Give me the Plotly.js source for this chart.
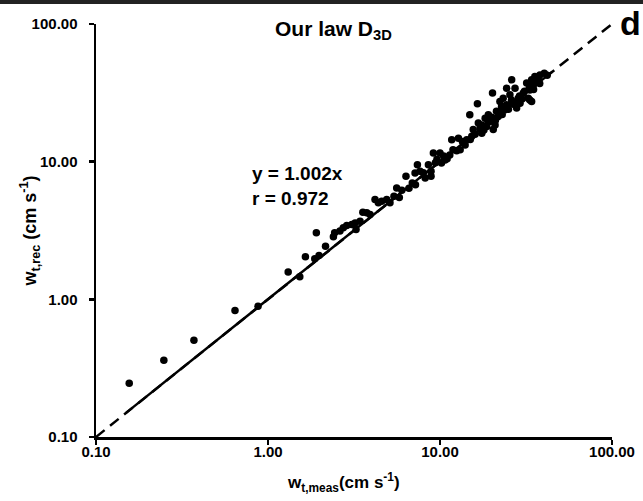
<!DOCTYPE html>
<html>
<head>
<meta charset="utf-8">
<script src="https://cdn.plot.ly/plotly-3.0.1.min.js"></script>
<style>html,body{margin:0;padding:0;background:#fff;}#chart{width:643px;height:501px;}</style>
</head>
<body>
<div id="chart"></div>
<script>
// Measured settling velocity (cm/s)
var wMeas = [0.156,0.248,0.371,0.643,0.875,
1.31,1.53,1.65,1.91,1.87,1.98,2.16,2.40,2.44,2.62,2.74,2.87,3.07,3.21,3.25,3.43,3.56,3.75,3.92,4.19,4.38,4.58,4.90,5.12,5.60,
6.34,7.16,7.39,7.66,8.56,8.87,8.87,9.15,10.0,10.2,10.7,11.4,11.7,11.9,12.8,13.1,13.7,14.3,14.9,15.3,15.6,16.5,16.7,17.1,17.5,18.3,18.7,19.1,19.5,20.2,20.4,20.9,21.3,21.8,22.3,22.8,23.3,23.9,24.4,24.4,25.5,26.1,26.7,27.3,27.9,28.5,29.2,30.5,31.9,32.6,33.3,33.3,34.1,34.9,35.6,37.3,38.1,40.4,34.1,
5.4,5.8,6.0,6.6,6.9,7.2,8.0,8.2,9.4,9.6,10.5,11.0,12.5,13.5,14.0,15.0,16.0,17.5,18.0,19.0,20.0,21.0,22.0,23.0,24.0,25.0,26.0,27.0,29.0,30.0,31.0,33.0,35.0,36.0,38.0,42.0];
// Reconstructed settling velocity (cm/s)
var wRec = [0.246,0.361,0.505,0.83,0.89,
1.58,1.46,2.04,3.04,1.97,2.08,2.43,2.85,3.04,3.13,3.31,3.44,3.49,3.59,3.22,3.69,4.29,4.25,4.13,5.30,5.02,5.16,5.30,5.02,6.45,
7.83,8.28,9.51,8.51,9.51,8.51,7.83,11.56,11.56,9.79,10.3,11.2,14.4,12.2,14.8,12.2,13.7,14.4,21.9,15.3,17.1,26.3,19.1,17.5,16.1,20.7,18.0,21.9,19.6,31.5,17.1,18.5,23.2,21.3,27.4,25.2,28.9,23.8,25.9,34.2,30.6,39.3,26.6,34.2,24.5,28.9,26.6,31.5,37.2,28.9,33.2,28.1,39.3,36.1,41.5,39.3,42.7,43.9,27.4,
5.6,5.5,6.2,6.4,7.0,6.8,8.3,7.6,9.8,10.4,11.0,10.5,12.0,14.0,13.2,14.5,15.8,18.5,17.0,19.8,21.0,20.0,23.0,22.0,25.0,24.0,28.0,26.0,30.0,28.5,32.5,34.0,33.5,38.0,37.0,42.5];
// 1:1 reference line and fitted line y = 1.002x
var refX = [0.1, 100];
var refY = [0.1, 100];
var slope = 1.002;
var fitX = [0.15, 45];
var fitY = fitX.map(function(v){ return slope * v; });
var tickVals = [0.1, 1, 10, 100];
var tickText = ["0.10", "1.00", "10.00", "100.00"];

var F = "Liberation Sans, Arial, sans-serif";
var traces = [
  {x: refX, y: refY, mode: 'lines', line: {color: '#000', width: 2.5, dash: '11px,7px'}, hoverinfo: 'skip'},
  {x: fitX, y: fitY, mode: 'lines', line: {color: '#000', width: 2.5}, hoverinfo: 'skip'},
  {x: wMeas, y: wRec, mode: 'markers', marker: {color: '#000', size: 7.5}}
];
var axisCommon = {
  type: 'log', range: [-1, 2], tickvals: tickVals, ticktext: tickText,
  showgrid: false, zeroline: false, showline: true, linecolor: '#000', linewidth: 2.5,
  ticks: 'outside', ticklen: 5, tickwidth: 2.5, tickcolor: '#000',
  tickfont: {family: F, size: 15, color: '#000', weight: 'bold'}
};
var layout = {
  width: 643, height: 501,
  margin: {l: 96, r: 31, t: 24, b: 64},
  paper_bgcolor: '#fff', plot_bgcolor: '#fff',
  showlegend: false,
  font: {family: F, color: '#000'},
  xaxis: Object.assign({}, axisCommon, {
    ticklabelstandoff: -6,
    title: {text: ''}
  }),
  yaxis: Object.assign({}, axisCommon, {
    ticklabelstandoff: 8,
    title: {text: ''}
  }),
  shapes: [
    {type: 'rect', xref: 'paper', yref: 'paper', x0: -0.3, x1: 1.2, y0: 1.0484, y1: 1.07, fillcolor: '#222', line: {width: 0}, layer: 'above'}
  ],
  annotations: [
    {xref: 'paper', yref: 'paper', x: 0.479, y: -0.111, xanchor: 'center', yanchor: 'middle', showarrow: false,
     text: '<b>w<sub>t,meas</sub>(cm s<sup>-1</sup>)</b>', font: {family: F, size: 17, color: '#000'}},
    {xref: 'paper', yref: 'paper', x: -0.128, y: 0.5, xanchor: 'center', yanchor: 'middle', showarrow: false, textangle: -90,
     text: '<b>w<sub>t,rec</sub> (cm s<sup>-1</sup>)</b>', font: {family: F, size: 18, color: '#000'}},
    {xref: 'paper', yref: 'paper', x: 0.46, y: 0.985, xanchor: 'center', yanchor: 'middle', showarrow: false,
     text: '<b>Our law D<sub>3D</sub></b>', font: {family: F, size: 21, color: '#000'}},
    {xref: 'paper', yref: 'paper', x: 0.2985, y: 0.608, xanchor: 'left', yanchor: 'middle', showarrow: false, align: 'left',
     text: '<b>y = 1.002x<br>r = 0.972</b>', font: {family: F, size: 19, color: '#000'}},
    {xref: 'paper', yref: 'paper', x: 1.035, y: 1.0036, xanchor: 'center', yanchor: 'middle', showarrow: false,
     text: '<b>d</b>', font: {family: F, size: 34, color: '#000'}}
  ]
};
Plotly.newPlot('chart', traces, layout, {displayModeBar: false, staticPlot: true});
</script>
</body>
</html>
